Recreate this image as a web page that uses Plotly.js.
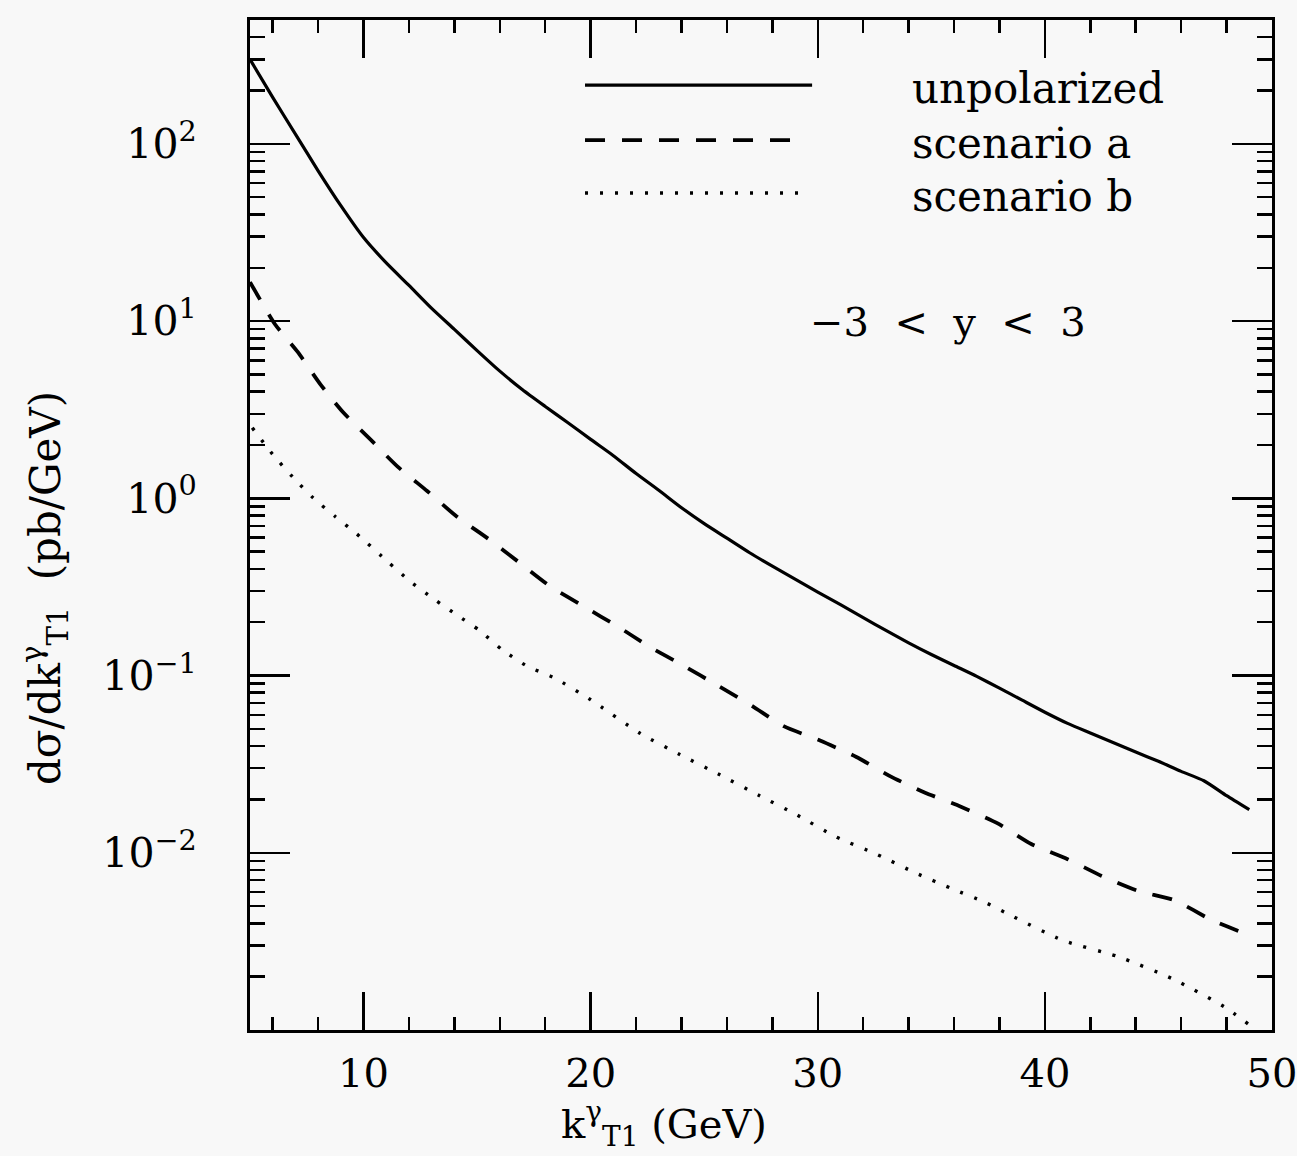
<!DOCTYPE html>
<html>
<head>
<meta charset="utf-8">
<script src="https://cdn.plot.ly/plotly-3.0.1.min.js"></script>
<style>html,body{margin:0;padding:0;background:#f8f8f8;}</style>
</head>
<body>
<div id="chart" style="width:1297px;height:1156px;"></div>
<script>
// ---- data ----
const unpolX = [5, 6, 7, 8, 9, 10, 11, 12, 13, 14, 15, 16, 17, 18, 19, 20, 21, 22, 23, 24, 25, 26, 27, 28, 29, 30, 31, 32, 33, 34, 35, 36, 37, 38, 39, 40, 41, 42, 43, 44, 45, 46, 47, 48, 49];
const unpolY = [300, 183, 113.5, 70.5, 44.8, 29.6, 21.3, 15.9, 11.8, 8.98, 6.82, 5.22, 4.10, 3.30, 2.67, 2.15, 1.74, 1.38, 1.11, 0.885, 0.72, 0.596, 0.493, 0.414, 0.35, 0.296, 0.251, 0.212, 0.180, 0.153, 0.1315, 0.114, 0.0989, 0.0849, 0.0726, 0.0621, 0.0537, 0.0474, 0.0419, 0.037, 0.0328, 0.0288, 0.0255, 0.021, 0.0175];

const scenAX = [5, 6.1, 7.1, 8.1, 9.1, 10.3, 11.5, 12.8, 14.1, 15.5, 16.8, 18.2, 19.7, 21.2, 22.6, 24.1, 25.6, 27.1, 28.5, 30.1, 31.7, 33.2, 34.7, 36.3, 37.9, 39.4, 41.0, 42.5, 44.1, 45.7, 47.3, 48.8];
const scenAY = [16.6, 9.6, 6.7, 4.4, 3.06, 2.15, 1.51, 1.10, 0.79, 0.59, 0.44, 0.32, 0.245, 0.189, 0.145, 0.1135, 0.0877, 0.0675, 0.0518, 0.043, 0.0347, 0.027, 0.0219, 0.0182, 0.0147, 0.0112, 0.0092, 0.0074, 0.0061, 0.0054, 0.0042, 0.0035];

const scenBX = [5.1, 6.0, 6.9, 7.8, 8.75, 9.7, 11.1, 12.05, 13.1, 14.1, 15.1, 16.1, 17.2, 18.4, 20.0, 22.2, 23.9, 25.6, 27.4, 29.1, 30.8, 32.6, 34.3, 36.0, 37.3, 38.4, 40.8, 43.2, 45.6, 47.9, 49.0];
const scenBY = [2.5, 1.77, 1.31, 1.0, 0.79, 0.63, 0.435, 0.34, 0.27, 0.22, 0.18, 0.14, 0.113, 0.097, 0.073, 0.047, 0.036, 0.0279, 0.0211, 0.0163, 0.0123, 0.0098, 0.0077, 0.0062, 0.0053, 0.0045, 0.0032, 0.0026, 0.00195, 0.00135, 0.00107];

const seriesNames = ["unpolarized", "scenario a", "scenario b"];
const yTickVals = [0.01, 0.1, 1, 10, 100];
const yTickText = ["10<sup>\u22122</sup>", "10<sup>\u22121</sup>", "10<sup>0</sup>", "10<sup>1</sup>", "10<sup>2</sup>"];
const xTitle = "k<sup>\u03b3</sup><sub>T1</sub> (GeV)";
const yTitle = "d\u03c3/dk<sup>\u03b3</sup><sub>T1</sub>  (pb/GeV)";
const rapidityLabel = "\u22123  <  y  <  3";

// minor log ticks (axis decoration)
const yMinor = [];
for (let n = -3; n <= 2; n++) {
  for (let d = 2; d <= 9; d++) {
    const v = d * Math.pow(10, n);
    if (v <= 500) yMinor.push(v);
  }
}

const FONT = "DejaVu Serif, serif";
const styles = [
  {color: "black", width: 3.2, dash: "solid", shape: "spline", smoothing: 0.6},
  {color: "black", width: 3.8, dash: "20px,17px", shape: "spline", smoothing: 0.6},
  {color: "black", width: 3.4, dash: "3px,12px", shape: "spline", smoothing: 0.6}
];

const traces = [
  {x: unpolX, y: unpolY, name: seriesNames[0], mode: "lines", line: styles[0]},
  {x: scenAX, y: scenAY, name: seriesNames[1], mode: "lines", line: styles[1]},
  {x: scenBX, y: scenBY, name: seriesNames[2], mode: "lines", line: styles[2]}
];

// legend key positions (paper coords)
const keyY = [0.9356, 0.881, 0.8287];
const keyX1 = [0.55, 0.538, 0.545];
const shapes = keyY.map((yy, i) => ({
  type: "line", xref: "paper", yref: "paper",
  x0: 0.3278, x1: keyX1[i], y0: yy, y1: yy,
  line: {color: "black", width: styles[i].width, dash: styles[i].dash}
}));

const annotations = seriesNames.map((t, i) => ({
  text: t, xref: "paper", yref: "paper", x: 0.6458, y: keyY[i] - 0.003,
  xanchor: "left", yanchor: "middle", showarrow: false,
  font: {family: FONT, size: 42, color: "black"}
}));
annotations.push({
  text: rapidityLabel, xref: "paper", yref: "paper", x: 0.546, y: 0.701,
  xanchor: "left", yanchor: "middle", showarrow: false,
  font: {family: FONT, size: 40, color: "black"}
});
annotations.push({
  text: xTitle, xref: "paper", yref: "paper", x: 0.405, y: -0.093,
  xanchor: "center", yanchor: "middle", showarrow: false,
  font: {family: FONT, size: 40, color: "black"}
});
annotations.push({
  text: yTitle, xref: "paper", yref: "paper", x: -0.2006, y: 0.4376,
  xanchor: "center", yanchor: "middle", showarrow: false, textangle: -90,
  font: {family: FONT, size: 42, color: "black"}
});

const layout = {
  width: 1297, height: 1156,
  paper_bgcolor: "#f8f8f8", plot_bgcolor: "#f8f8f8",
  margin: {l: 250, r: 25, t: 20, b: 126},
  showlegend: false,
  xaxis: {
    range: [5, 50], tickmode: "linear", tick0: 0, dtick: 10,
    ticks: "inside", ticklen: 38, tickwidth: 2.5, tickcolor: "black",
    showline: true, linewidth: 3, linecolor: "black", mirror: "ticks",
    showgrid: false, zeroline: false,
    tickfont: {family: FONT, size: 40, color: "black"},
    ticklabelstandoff: 6, ticklabeloverflow: "allow",
    minor: {tick0: 0, dtick: 2, ticks: "inside", ticklen: 13, tickwidth: 2.5, tickcolor: "black", showgrid: false}
  },
  yaxis: {
    type: "log", range: [-3, 2.699],
    tickmode: "array", tickvals: yTickVals, ticktext: yTickText,
    ticks: "inside", ticklen: 40, tickwidth: 2.5, tickcolor: "black",
    showline: true, linewidth: 3, linecolor: "black", mirror: "ticks",
    showgrid: false, zeroline: false,
    tickfont: {family: FONT, size: 41, color: "black"},
    ticklabelstandoff: 42,
    minor: {tickmode: "array", tickvals: yMinor, ticks: "inside", ticklen: 15, tickwidth: 2.5, tickcolor: "black", showgrid: false}
  },
  shapes: shapes,
  annotations: annotations
};

Plotly.newPlot("chart", traces, layout, {displayModeBar: false, staticPlot: true});
</script>
</body>
</html>
